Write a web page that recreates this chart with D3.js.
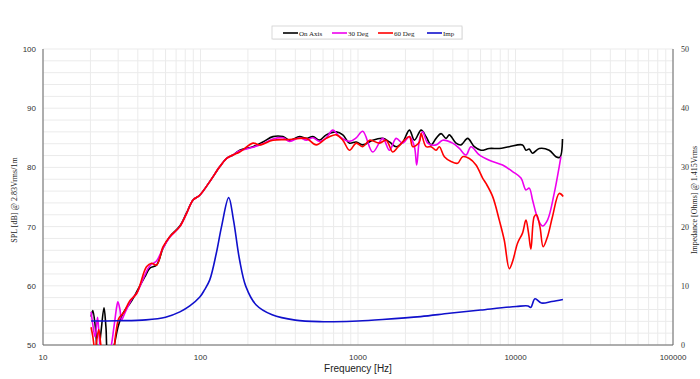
<!DOCTYPE html>
<html><head><meta charset="utf-8">
<script src="https://cdn.jsdelivr.net/npm/d3@7"></script>
<style>body{margin:0;background:#fff}svg{display:block}</style>
</head><body>
<svg id="c" width="700" height="379"></svg>
<script>
// ---- data (frequency Hz, value) ----
const xTicks = [10, 100, 1000, 10000, 100000];
const splTicks = [50, 60, 70, 80, 90, 100];
const impTicks = [0, 10, 20, 30, 40, 50];
const seriesNames = ["On Axis", "30 Deg", "60 Deg", "Imp"];
const seriesColors = ["#000000", "#ee00ee", "#ff0000", "#1010cc"];

const onAxis = [[20.2,54.8],[20.7,55.8],[21.5,53],[22.3,48],[23.3,52],[24.4,56.3],[25.1,53],[26.0,48],[27.4,48.5],[28.6,50.5],[29.9,53],[31.7,55],[33.1,55.9],[35.6,57],[38.3,58.4],[41.2,60],[44.3,61.5],[47.7,63],[52.6,63.5],[57.9,66.4],[63.8,68.3],[73.9,70.1],[81.5,72.3],[89.7,74.5],[98.9,75.3],[114.5,77.6],[132.4,80.1],[146,81.5],[160.8,82.1],[177.4,82.9],[215.4,83.5],[249,84.3],[288.4,85.2],[333.7,85.2],[367.9,84.6],[425.8,85.2],[469.5,84.9],[517,85.2],[570,84.6],[628.5,85.5],[727.8,86],[801,85.5],[883,84.1],[974,84.3],[1072,83.8],[1241,84.6],[1437,84.9],[1584,84.3],[1747,83.5],[1923,84.3],[2121,86.3],[2281,84.6],[2516,86.3],[2706,85.2],[2911,83.8],[3131,84.9],[3369,85.7],[3623,84.9],[3802,85.5],[4192,84.1],[4509,83.8],[4966,84.9],[5477,83.5],[6040,82.9],[6817,83.2],[7889,83.2],[9130,83.5],[11080,83.8],[11650,82.9],[12220,83.1],[12830,82.4],[14140,83.2],[16370,82.9],[18050,81.8],[19130,81.7],[19880,84.8]];

const deg30 = [[20.2,55.6],[20.7,53.5],[21.4,51.4],[22.2,54.7],[22.8,51],[23.7,48],[25.1,48],[26.6,49],[28.2,53],[29.4,56.5],[29.9,57.3],[30.8,56],[31.5,54.2],[32.6,55],[34.6,56.5],[37.2,58],[39.3,58.7],[44.3,61.8],[47.7,63.4],[52.6,64.2],[57.9,66.4],[63.8,68.2],[73.9,70],[81.5,72.2],[89.7,74.5],[98.9,75.3],[114.5,77.6],[132.4,80.1],[146,81.5],[160.8,82.1],[177.4,82.8],[215.4,83.4],[249,84],[288.4,84.8],[333.7,85],[367.9,84.4],[425.8,85],[469.5,84.6],[517,85],[570,84.4],[628.5,85],[692,86.3],[763,85.2],[883,84.4],[974,85],[1072,86.1],[1241,82.6],[1437,84.9],[1584,82.9],[1747,84.9],[1923,84.1],[2121,85.2],[2281,83.5],[2359,80.4],[2455,84.6],[2575,86],[2771,84.1],[3131,83.8],[3449,84.6],[3989,84.1],[4400,83.2],[4852,82.1],[5219,83.5],[5890,82.1],[6817,81.2],[8279,80.4],[9580,79.3],[10830,78.2],[11650,76.2],[12220,76.5],[12830,74.5],[13480,72.3],[14140,70.8],[14840,70.1],[15970,71.1],[17610,75.6],[18940,80.1],[19420,81.8]];

const deg60 = [[20.2,53],[20.7,51.5],[21.4,49],[22.0,51],[22.6,52.6],[23.3,50],[24.0,48],[25.8,48],[27.4,48],[29.0,52],[30.3,54.5],[32.6,55.5],[35.6,57.5],[39.3,58.7],[45.4,63.2],[48.9,63.8],[52.6,63.5],[57.9,66.6],[63.8,68.3],[73.9,70],[81.5,72.2],[89.7,74.5],[98.9,75.3],[114.5,77.6],[132.4,80.1],[146,81.5],[160.8,82.1],[177.4,82.6],[215.4,84.1],[237.5,83.8],[288.4,84.6],[367.9,84.7],[469.5,84.9],[543,83.8],[628.5,84.9],[727.8,85.5],[801,84.6],[883,82.9],[974,84.1],[1072,83.5],[1183,84.6],[1369,84.1],[1510,84.6],[1662,82.6],[1788,83.4],[1971,84.6],[2121,85.2],[2226,83.5],[2455,84.3],[2516,85.7],[2706,83.5],[2911,83.5],[3131,82.9],[3285,83.5],[3534,81.8],[3897,81],[4292,80.7],[4617,81.8],[5091,81.5],[5615,80.4],[6184,78.2],[6497,77.3],[7154,75.1],[7889,71.1],[8487,67.7],[9130,62.9],[9580,64.1],[10300,67.2],[11080,68.9],[11650,71.1],[12100,68.9],[12530,66.2],[13150,71.7],[13590,72],[14290,70],[14990,66.6],[15970,68.3],[17180,71.7],[18940,75.6],[20090,75.1]];

const imp = [[20.2,4.05],[30,4.1],[45,4.25],[60,4.7],[74,5.6],[85.5,6.6],[99,8.1],[106,9.3],[114.5,11],[126,15.5],[136,20],[151,24.9],[162,21.1],[177,14.4],[194,9.9],[225,6.8],[285,5.1],[400,4.2],[600,3.94],[700,3.94],[1000,4.05],[1430,4.3],[2500,4.8],[3800,5.35],[6000,5.9],[10100,6.5],[12000,6.6],[12500,6.35],[13300,7.8],[14600,7.1],[17000,7.35],[20000,7.7]];

// ---- layout ----
const svg = d3.select("#c");
const L = 43, R = 673, T = 49, B = 345;
const x = d3.scaleLog().domain([10, 100000]).range([L, R]);
const y = d3.scaleLinear().domain([50, 100]).range([B, T]);
const y2 = d3.scaleLinear().domain([0, 50]).range([B, T]);

// grid
const g = svg.append("g");
const vlines = [];
for (let d = 10; d < 100000; d *= 10) for (let k = 1; k <= 9; k++) vlines.push(d * k);
vlines.push(100000);
g.selectAll(".v").data(vlines).join("line")
  .attr("x1", d => x(d)).attr("x2", d => x(d)).attr("y1", T).attr("y2", B)
  .attr("stroke", "#ebebeb").attr("stroke-width", 1);
g.selectAll(".h").data(d3.range(50, 101, 2)).join("line")
  .attr("x1", L).attr("x2", R).attr("y1", d => y(d)).attr("y2", d => y(d))
  .attr("stroke", "#ebebeb").attr("stroke-width", 1);

// axes lines
svg.append("line").attr("x1", L).attr("x2", L).attr("y1", T).attr("y2", B).attr("stroke", "#666");
svg.append("line").attr("x1", R).attr("x2", R).attr("y1", T).attr("y2", B).attr("stroke", "#666");
svg.append("line").attr("x1", L).attr("x2", R).attr("y1", B).attr("y2", B).attr("stroke", "#666");

// tick labels
svg.selectAll(".xl").data(xTicks).join("text")
  .attr("x", d => x(d)).attr("y", B + 15).attr("text-anchor", "middle")
  .attr("font-family", "Liberation Sans, Arial, sans-serif").attr("font-size", 8).attr("fill", "#333")
  .text(d => d);
svg.selectAll(".yl").data(splTicks).join("text")
  .attr("x", L - 7).attr("y", d => y(d) + 3).attr("text-anchor", "end")
  .attr("font-family", "Liberation Sans, Arial, sans-serif").attr("font-size", 8).attr("fill", "#333")
  .text(d => d);
svg.selectAll(".y2l").data(impTicks).join("text")
  .attr("x", R + 8).attr("y", d => y2(d) + 3).attr("text-anchor", "start")
  .attr("font-family", "Liberation Serif, Times New Roman, serif").attr("font-size", 8).attr("fill", "#333")
  .text(d => d);

// axis titles
svg.append("text").attr("x", 358).attr("y", 372).attr("text-anchor", "middle")
  .attr("font-family", "Liberation Sans, Arial, sans-serif").attr("font-size", 10).attr("fill", "#222")
  .text("Frequency [Hz]");
svg.append("text").attr("transform", "translate(17,200) rotate(-90)").attr("text-anchor", "middle")
  .attr("font-family", "Liberation Serif, Times New Roman, serif").attr("font-size", 8).attr("fill", "#222")
  .text("SPL [dB] @ 2.83Vrms/1m");
svg.append("text").attr("transform", "translate(697,200) rotate(-90)").attr("text-anchor", "middle")
  .attr("font-family", "Liberation Serif, Times New Roman, serif").attr("font-size", 8).attr("fill", "#222")
  .text("Impedance [Ohms] @ 1.415Vrms");

// clip
svg.append("clipPath").attr("id", "clip").append("rect")
  .attr("x", L).attr("y", T).attr("width", R - L).attr("height", B - T);

const lineSpl = d3.line().x(d => x(d[0])).y(d => y(d[1])).curve(d3.curveCatmullRom.alpha(0.5));
const lineImp = d3.line().x(d => x(d[0])).y(d => y2(d[1])).curve(d3.curveCatmullRom.alpha(0.5));
const plot = svg.append("g").attr("clip-path", "url(#clip)");
const splSeries = [onAxis, deg30, deg60];
[onAxis, deg30, deg60].forEach((s, i) => {
  plot.append("path").attr("d", lineSpl(s)).attr("fill", "none")
    .attr("stroke", seriesColors[i]).attr("stroke-width", 1.6).attr("stroke-linejoin", "round");
});
plot.append("path").attr("d", lineImp(imp)).attr("fill", "none")
  .attr("stroke", seriesColors[3]).attr("stroke-width", 1.6);

// legend
const lg = svg.append("g");
lg.append("rect").attr("x", 273).attr("y", 27).attr("width", 190).attr("height", 13)
  .attr("fill", "#f4f4f4");
lg.append("rect").attr("x", 272).attr("y", 26).attr("width", 190).attr("height", 13)
  .attr("fill", "#fff").attr("stroke", "#d0d0d0").attr("stroke-width", 0.8);
const lx = [283, 332, 378, 427];
seriesNames.forEach((n, i) => {
  lg.append("line").attr("x1", lx[i]).attr("x2", lx[i] + 15).attr("y1", 33).attr("y2", 33)
    .attr("stroke", seriesColors[i]).attr("stroke-width", 1.6);
  lg.append("text").attr("x", lx[i] + 16).attr("y", 35.5)
    .attr("font-family", "Liberation Serif, Times New Roman, serif").attr("font-size", 7).attr("fill", "#222")
    .text(n);
});
</script>
</body></html>
